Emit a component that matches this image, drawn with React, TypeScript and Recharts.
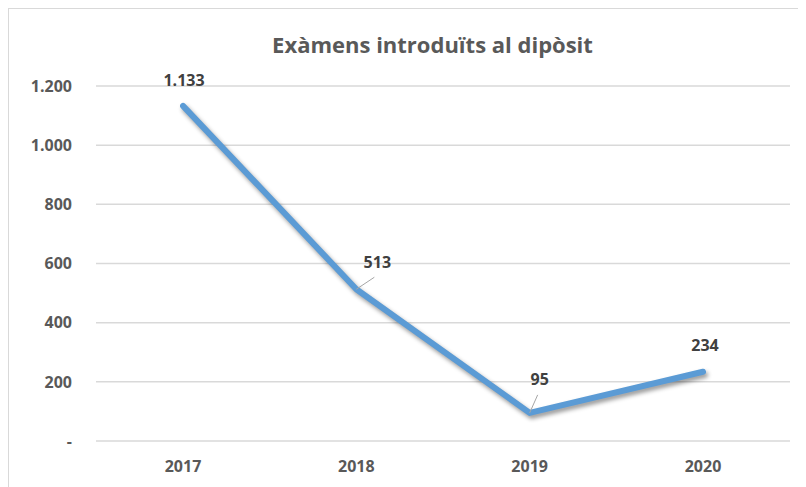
import { LineChart, Line, XAxis, YAxis, CartesianGrid, LabelList } from "recharts";

const YEARS = ["2017", "2018", "2019", "2020"];
const EXAMS = [1133, 513, 95, 234];
const Y_TICKS = [0, 200, 400, 600, 800, 1000, 1200];

const data = YEARS.map((year, i) => ({ year, exams: EXAMS[i] }));

const FONT = "'Open Sans', 'Noto Sans', sans-serif";
const LINE_COLOR = "#5b9bd5";

// Excel-style thousands separator; zero shows as a dash
const fmt = (v: number) =>
  v === 0 ? "-" : String(v).replace(/\B(?=(\d{3})+(?!\d))/g, ".");

// label offset from its point, plus an optional leader line end
const LABEL_POS = [
  { dx: 1, dy: -26 },
  { dx: 21, dy: -27, lx: 18, ly: -12 },
  { dx: 10, dy: -34, lx: 8, ly: -18 },
  { dx: 2, dy: -27 },
];

function PointLabel(props: any) {
  const { x, y, value, index } = props;
  const pos = LABEL_POS[index] || { dx: 0, dy: -26 };
  return (
    <g>
      {pos.lx !== undefined && (
        <line
          x1={x}
          y1={y}
          x2={x + pos.lx}
          y2={y + pos.ly}
          stroke="#a6a6a6"
          strokeWidth={1}
        />
      )}
      <text
        x={x + pos.dx}
        y={y + pos.dy}
        textAnchor="middle"
        dominantBaseline="central"
        fontFamily={FONT}
        fontWeight={700}
        fontSize={16}
        fill="#404040"
      >
        {fmt(value)}
      </text>
    </g>
  );
}

export default function App() {
  return (
    <div
      style={{
        width: 797,
        height: 478,
        borderTop: "1px solid #d9d9d9",
        borderLeft: "1px solid #d9d9d9",
        background: "#fff",
        position: "relative",
      }}
    >
      <style>{`.recharts-line-curve { filter: drop-shadow(2px 3px 2px rgba(0,0,0,0.4)); }`}</style>
      <div
        style={{
          position: "absolute",
          left: 0,
          right: 0,
          top: 20,
          textAlign: "center",
          paddingLeft: 50,
          fontFamily: FONT,
          fontWeight: 700,
          fontSize: 22,
          lineHeight: "30px",
          color: "#595959",
        }}
      >
        Exàmens introduïts al dipòsit
      </div>
      <LineChart
        width={797}
        height={478}
        data={data}
        margin={{ top: 77, right: 16, bottom: 16, left: 0 }}
      >
        <CartesianGrid vertical={false} stroke="#d9d9d9" strokeWidth={1.5} />
        <XAxis
          dataKey="year"
          axisLine={false}
          tickLine={false}
          tickSize={0}
          tickMargin={20}
          height={30}
          padding={{ left: 87, right: 87 }}
          tick={{ fontFamily: FONT, fontWeight: 700, fontSize: 16, fill: "#595959" }}
        />
        <YAxis
          domain={[0, 1200]}
          ticks={Y_TICKS}
          tickFormatter={fmt}
          axisLine={false}
          tickLine={false}
          tickSize={0}
          tickMargin={24}
          width={87}
          tick={{ fontFamily: FONT, fontWeight: 700, fontSize: 16, fill: "#595959" }}
        />
        <Line
          type="linear"
          dataKey="exams"
          stroke={LINE_COLOR}
          strokeWidth={6}
          strokeLinecap="round"
          strokeLinejoin="round"
          dot={false}
          activeDot={false}
          isAnimationActive={false}
        >
          <LabelList dataKey="exams" content={PointLabel} />
        </Line>
      </LineChart>
    </div>
  );
}
